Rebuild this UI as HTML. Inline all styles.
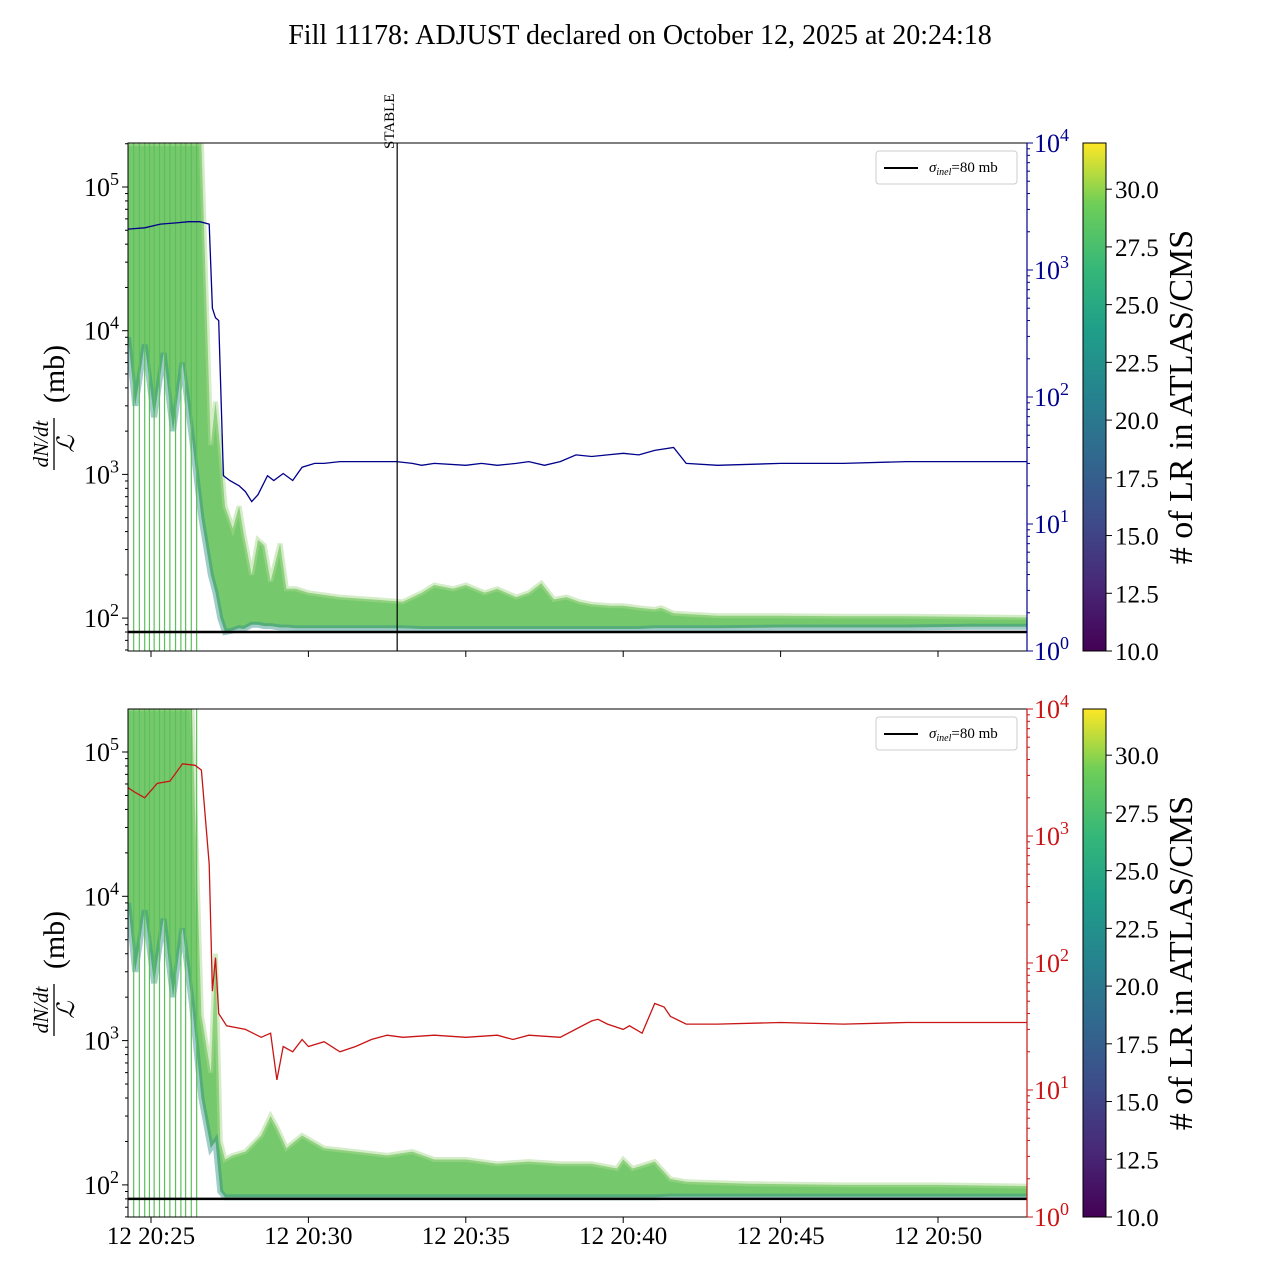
<!DOCTYPE html>
<html><head><meta charset="utf-8">
<style>
body{margin:0;background:#fff;}
svg{display:block;font-family:"Liberation Serif",serif;}
</style></head>
<body>
<svg id="fig" width="1280" height="1280" viewBox="0 0 1280 1280" xmlns="http://www.w3.org/2000/svg">
<defs>
<linearGradient id="vir" x1="0" y1="1" x2="0" y2="0">
<stop offset="0" stop-color="#440154"/><stop offset="0.13" stop-color="#482878"/><stop offset="0.25" stop-color="#3e4a89"/><stop offset="0.38" stop-color="#31688e"/><stop offset="0.5" stop-color="#26828e"/><stop offset="0.63" stop-color="#1f9e89"/><stop offset="0.75" stop-color="#35b779"/><stop offset="0.88" stop-color="#6ece58"/><stop offset="1" stop-color="#fde725"/>
</linearGradient>
</defs>
<text x="640" y="44" font-size="28" text-anchor="middle">Fill 11178: ADJUST declared on October 12, 2025 at 20:24:18</text>
<g id="top"></g>
<g id="bot"></g>
</svg>
<script>
// time in minutes since 20:24:00
const xTickLabels = ["12 20:25","12 20:30","12 20:35","12 20:40","12 20:45","12 20:50"];
const xTickTimes = [1,6,11,16,21,26];
const yTickExp = [2,3,4,5];
const rTickExp = [0,1,2,3,4];
const cbTicks = [10.0,12.5,15.0,17.5,20.0,22.5,25.0,27.5,30.0];
const sigma = 80;
const stableTime = 8.82;
const spikeTimes = [0.45,0.63,0.8,0.95,1.1,1.27,1.43,1.6,1.78,1.95,2.1,2.28,2.45];
// top band envelope
const topT   = [0.27,0.5,0.8,1.1,1.4,1.7,2.0,2.3,2.6,2.9,3.05,3.2,3.35,3.6,3.8,3.95,4.2,4.4,4.6,4.8,5.1,5.3,5.6,6.0,7,8,9,9.6,10,10.6,11,11.6,12,12.6,13,13.4,13.8,14.2,14.6,15,15.6,16,16.5,17,17.2,17.6,19,21,23,25,27,28.9];
const topUp  = [2e5,2e5,2e5,2e5,2e5,2e5,2e5,2e5,2e5,1600,3200,1500,600,420,600,380,200,350,320,180,330,160,160,150,140,135,130,150,170,160,170,150,160,140,150,175,135,140,130,125,122,122,118,115,118,108,104,104,103,103,102,101];
const topLo  = [9000,3000,8000,2500,7000,2000,6000,1800,500,200,150,100,80,82,85,84,90,90,88,88,86,86,85,85,85,85,85,84,84,84,84,84,84,84,84,84,84,84,84,84,84,84,84,85,85,85,85,86,86,86,87,87];
// bottom band envelope
const botT   = [0.27,0.5,0.8,1.1,1.4,1.7,2.0,2.3,2.6,2.9,3.05,3.2,3.35,3.6,4.0,4.5,4.8,5.0,5.3,5.8,6.5,7.5,8.5,9.3,10,11,12,13,14,15,15.8,16,16.3,17,17.5,18,20,23,26,28.9];
const botUp  = [2e5,2e5,2e5,2e5,2e5,2e5,2e5,2e5,1500,600,4000,200,150,160,170,220,300,250,180,220,180,170,160,170,150,150,140,145,140,140,130,150,130,145,110,105,102,100,100,98];
const botLo  = [9000,3000,8000,2500,7000,2000,6000,1800,400,180,200,90,82,82,82,82,82,82,82,82,82,82,82,82,82,82,82,82,82,82,82,82,82,82,83,83,83,83,83,83];
// blue (top, right axis) line
const blueT = [0.27,0.8,1.3,1.8,2.2,2.55,2.85,2.95,3.05,3.15,3.3,3.5,3.8,4.0,4.2,4.4,4.7,4.9,5.2,5.5,5.8,6.2,6.5,7,8,8.8,9.3,9.6,10,11,11.5,12,12.6,13,13.5,14,14.5,15,15.5,16,16.5,17,17.6,18,19,21,23,25,27,28.9];
const blueV = [2100,2150,2300,2350,2400,2400,2300,500,420,400,24,22,20,18,15,17,24,22,25,22,28,30,30,31,31,31,30,29,30,29,30,29,30,31,29,31,35,34,35,36,35,38,40,30,29,30,30,31,31,31];
// red (bottom, right axis) line
const redT = [0.27,0.5,0.8,1.2,1.6,2.0,2.4,2.6,2.85,2.95,3.05,3.15,3.4,4.0,4.5,4.8,5.0,5.2,5.5,5.8,6.0,6.5,7.0,7.5,8.0,8.5,9,10,11,12,12.5,13,14,15,15.2,15.5,16,16.2,16.6,17,17.3,17.5,18,19,21,23,25,27,28.9];
const redV = [2400,2200,2000,2600,2700,3700,3600,3300,600,60,110,40,32,30,26,28,12,22,20,25,22,24,20,22,25,27,26,27,26,27,25,27,26,35,36,33,30,32,28,48,45,38,33,33,34,33,34,34,34];

const NS='http://www.w3.org/2000/svg';
const X0=128,X1=1027;
function X(t){return 151+(t-1)*31.48;}
function mk(p,tag,at,name){const e=document.createElementNS(NS,tag);for(const k in at)e.setAttribute(k,at[k]);


p.appendChild(e);return e;}
function txt(p,x,y,s,size,anchor,name,fill){const e=mk(p,'text',{x:x,y:y,'font-size':size,'text-anchor':anchor||'start',fill:fill||'#000'},name);e.textContent=s;return e;}
function supTxt(p,x,y,exp,fill,name){const e=mk(p,'text',{x:x,y:y,'font-size':26,fill:fill},name);
 e.textContent='10';const s=document.createElementNS(NS,'tspan');s.setAttribute('dy','-11');s.setAttribute('font-size','18');s.textContent=exp;e.appendChild(s);}

function panel(g,Y0,Y1,dec5,decPx,bt,bu,bl,lt,lv,lcolor,rcolor,hasStable,showX){
 const Y=v=>dec5+(5-Math.log10(v))*decPx;
 const RY=v=>Y1-Math.log10(v)/4*(Y1-Y0);
 const clip='c'+Y0;
 const cp=mk(g,'clipPath',{id:clip},'clip');mk(cp,'rect',{x:X0,y:Y0,width:X1-X0,height:Y1-Y0},'clip-rect');
 const pg=mk(g,'g',{'clip-path':'url(#'+clip+')'},'plot-area');
 let up=bt.map((t,i)=>X(t).toFixed(1)+','+Y(bu[i]).toFixed(1));
 let lo=bt.map((t,i)=>X(t).toFixed(1)+','+Y(bl[i]).toFixed(1));
 mk(pg,'polygon',{points:up.concat(lo.slice().reverse()).join(' '),fill:'#66c35c','fill-opacity':0.9},'lr-band');
 mk(pg,'polyline',{points:up.join(' '),fill:'none',stroke:'#a9d98f','stroke-width':5,'stroke-opacity':0.5},'lr-band-upper-edge');
 mk(pg,'polyline',{points:lo.join(' '),fill:'none',stroke:'#2e8f8a','stroke-width':6,'stroke-opacity':0.45},'lr-band-lower-edge');
 spikeTimes.forEach(t=>mk(pg,'line',{x1:X(t),x2:X(t),y1:Y0,y2:Y1,stroke:'#5cc05a','stroke-width':1.2},'lr-spike'));
 mk(pg,'polyline',{points:lt.map((t,i)=>X(t).toFixed(1)+','+RY(lv[i]).toFixed(1)).join(' '),fill:'none',stroke:lcolor,'stroke-width':1.3},'rate-line');
 mk(pg,'line',{x1:X0,x2:X1,y1:Y(sigma),y2:Y(sigma),stroke:'#000','stroke-width':2.5},'sigma-inel-line');
 if(hasStable){mk(g,'line',{x1:X(stableTime),x2:X(stableTime),y1:Y0,y2:Y1,stroke:'#000','stroke-width':1.2},'stable-line');
  const st=txt(g,0,0,'STABLE',15,'start','stable-label');st.setAttribute('transform','translate('+(X(stableTime)-3)+','+(Y0+6)+') rotate(-90)');}
 mk(g,'rect',{x:X0,y:Y0,width:X1-X0,height:Y1-Y0,fill:'none',stroke:'#000','stroke-width':1},'axes-frame');
 yTickExp.forEach(e=>{const y=Y(Math.pow(10,e));mk(g,'line',{x1:X0-6,x2:X0,y1:y,y2:y,stroke:'#000'},'y-tick');supTxt(g,84,y+9,e,'#000','y-tick-label');
  for(let m=2;m<10;m++){const yy=Y(m*Math.pow(10,e));if(yy>Y0&&yy<Y1)mk(g,'line',{x1:X0-3,x2:X0,y1:yy,y2:yy,stroke:'#000'},'y-minor-tick');}});
 for(let m=6;m<10;m++){const yy=Y(m*10);if(yy<Y1)mk(g,'line',{x1:X0-3,x2:X0,y1:yy,y2:yy,stroke:'#000'},'y-minor-tick');}
 mk(g,'line',{x1:X1,x2:X1,y1:Y0,y2:Y1,stroke:rcolor,'stroke-width':1.2},'right-spine');
 rTickExp.forEach(e=>{const y=RY(Math.pow(10,e));mk(g,'line',{x1:X1,x2:X1+6,y1:y,y2:y,stroke:rcolor},'right-tick');supTxt(g,1034,y+9,e,rcolor,'right-tick-label');
  for(let m=2;m<10&&e<4;m++){const yy=RY(m*Math.pow(10,e));mk(g,'line',{x1:X1,x2:X1+3,y1:yy,y2:yy,stroke:rcolor},'right-minor-tick');}});
 xTickTimes.forEach((t,i)=>{mk(g,'line',{x1:X(t),x2:X(t),y1:Y1,y2:Y1+6,stroke:'#000'},'x-tick');if(showX)txt(g,X(t),Y1+27,xTickLabels[i],25,'middle','x-tick-label');});
 const yt=mk(g,'g',{transform:'translate(54,'+((Y0+Y1)/2+5)+') rotate(-90)'},'y-axis-title');
 txt(yt,-42,-6,'dN/dt',21,'middle','y-title-num').setAttribute('font-style','italic');
 mk(yt,'line',{x1:-68,x2:-16,y1:0,y2:0,stroke:'#000','stroke-width':1.3},'y-title-bar');
 txt(yt,-42,20,'ℒ',24,'middle','y-title-den').setAttribute('font-style','italic');
 txt(yt,28,10,'(mb)',30,'middle','y-title-unit');
 mk(g,'rect',{x:876,y:Y0+8,width:141,height:33,rx:3,fill:'#fff',stroke:'#ccc'},'legend-box');
 mk(g,'line',{x1:884,x2:918,y1:Y0+25,y2:Y0+25,stroke:'#000','stroke-width':2},'legend-swatch');
 const lt2=txt(g,929,Y0+29,'',15,'start','legend-entry');lt2.innerHTML='<tspan font-style="italic">σ</tspan><tspan font-style="italic" font-size="10" dy="3">inel</tspan><tspan dy="-3">=80 mb</tspan>';
 mk(g,'rect',{x:1083,y:Y0,width:23,height:Y1-Y0,fill:'url(#vir)',stroke:'#000'},'colorbar');
 cbTicks.forEach(v=>{const y=Y1-(v-10)/22*(Y1-Y0);mk(g,'line',{x1:1106,x2:1112,y1:y,y2:y,stroke:'#000'},'colorbar-tick');txt(g,1115,y+9,v.toFixed(1),25,'start','colorbar-tick-label');});
 const ct=txt(g,0,0,'# of LR in ATLAS/CMS',34,'middle','colorbar-title');ct.setAttribute('transform','translate(1192,'+((Y0+Y1)/2)+') rotate(-90)');
}
panel(document.getElementById('top'),143,651,187,143.7,topT,topUp,topLo,blueT,blueV,'#00008b','#00008b',true,false);
panel(document.getElementById('bot'),709,1217,752,144.3,botT,botUp,botLo,redT,redV,'#c81414','#c81414',false,true);
</script>
</body></html>
